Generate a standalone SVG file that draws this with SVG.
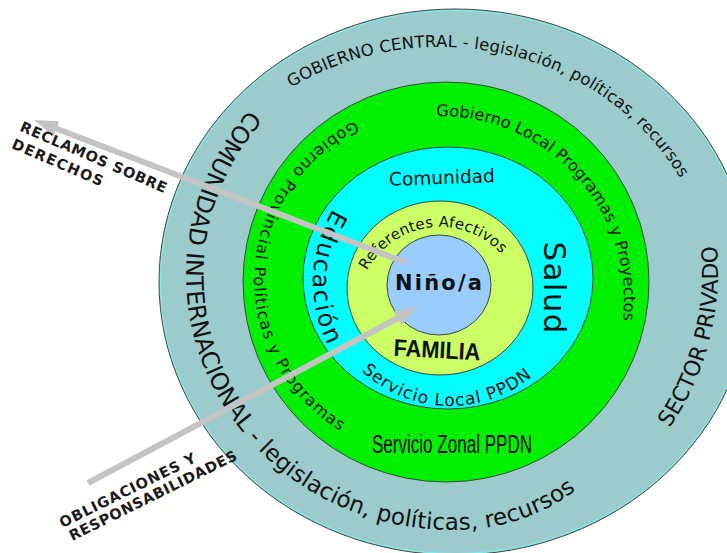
<svg xmlns="http://www.w3.org/2000/svg" width="727" height="553" viewBox="0 0 727 553">
<defs>
<style>
.ring{stroke:#3a4848;stroke-width:1}
.t{font-family:"DejaVu Sans",Verdana,sans-serif;fill:#111}
.n{font-family:"Liberation Sans",Arial,sans-serif;fill:#111}
.lbl{font-family:"DejaVu Sans",Verdana,sans-serif;font-weight:bold;font-size:14.5px;fill:#1a1a1a}
.arr{stroke:#c4c4c4;stroke-width:6;fill:none}
</style>
<marker id="ah" markerUnits="userSpaceOnUse" viewBox="0 0 24 16" markerWidth="24" markerHeight="16" refX="4" refY="8" orient="auto"><path d="M0,0 L24,8 L0,16 z" fill="#c4c4c4"/></marker>
<path id="p-top" d="M282.8,92.7 A274,253 0 0,1 688.3,193.1"/>
<path id="p-outer" d="M254.3,104.4 A266,255 0 0,0 452,530 A214.7,230 0 0,0 598,472"/>
<path id="p-sector" d="M665.5,433.6 A275,275 0 0,0 715.3,233.7"/>
<path id="p-glocal" d="M430.4,116.3 A184,184 0 0,1 621.2,332"/>
<path id="p-gprov" d="M361,117.8 A196,182 0 0,0 343.3,432.6"/>
<path id="p-slocal" d="M357.2,366.6 A129,129 0 0,0 539.6,369.8"/>
<path id="p-ref" d="M362,281.6 A83,83 0 0,1 511.9,268.5"/>
<path id="p-edu" d="M335.9,204.7 A142,142 0 0,0 335.9,359.3"/>
</defs>
<rect width="727" height="553" fill="#ffffff"/>

<g id="anillo-externo">
<ellipse class="ring" cx="455" cy="282" rx="296" ry="273" fill="#9ccbcb"/>
<ellipse cx="455" cy="282" rx="294.5" ry="271.5" fill="none" stroke="#7ff0f0" stroke-width="1"/>
<text class="t" font-size="16.5"><textPath href="#p-top" startOffset="10" textLength="442">GOBIERNO CENTRAL - legislación, políticas, recursos</textPath></text>
<text class="t" font-size="24"><textPath href="#p-outer" startOffset="7" textLength="352" lengthAdjust="spacingAndGlyphs">COMUNIDAD INTERNACIONAL</textPath></text>
<text class="t" font-size="23"><textPath href="#p-outer" startOffset="366" textLength="364">- legislación, políticas, recursos</textPath></text>
<text class="t" font-size="22"><textPath href="#p-sector" startOffset="7" textLength="192" lengthAdjust="spacingAndGlyphs">SECTOR PRIVADO</textPath></text>
</g>

<g id="anillo-gobierno">
<ellipse class="ring" cx="446" cy="282" rx="203" ry="200" fill="#00f000"/>
<text class="t" font-size="16"><textPath href="#p-glocal" startOffset="6" textLength="313">Gobierno Local Programas y Proyectos</textPath></text>
<text class="t" font-size="16"><textPath href="#p-gprov" startOffset="7" textLength="379">Gobierno Provincial Políticas y Programas</textPath></text>
<text class="n" font-size="26" x="372" y="453" textLength="160" lengthAdjust="spacingAndGlyphs">Servicio Zonal PPDN</text>
</g>

<g id="anillo-comunidad">
<ellipse class="ring" cx="448" cy="278" rx="145" ry="131" fill="#00ffff"/>
<text class="t" font-size="18.5" x="442" y="184" text-anchor="middle" transform="rotate(-2 442 180)">Comunidad</text>
<text class="t" font-size="24"><textPath href="#p-edu" startOffset="5" textLength="142">Educación</textPath></text>
<text class="t" font-size="31" text-anchor="middle" textLength="92" transform="translate(544 287.5) rotate(90)">Salud</text>
<text class="t" font-size="17"><textPath href="#p-slocal" startOffset="6" textLength="186">Servicio Local PPDN</textPath></text>
</g>

<g id="anillo-familia">
<ellipse class="ring" cx="440" cy="288" rx="93" ry="87" fill="#ccff66"/>
<text class="t" font-size="15"><textPath href="#p-ref" startOffset="12" textLength="158">Referentes Afectivos</textPath></text>
<text class="n" font-size="24" font-weight="bold" x="437" y="358" text-anchor="middle" textLength="87" lengthAdjust="spacingAndGlyphs" transform="rotate(3 437 350)">FAMILIA</text>
</g>

<g id="nino">
<ellipse class="ring" cx="439" cy="285" rx="52" ry="50" fill="#99ccff"/>
<text class="t" font-size="21" font-weight="bold" x="438.5" y="290" text-anchor="middle" textLength="87">Niño/a</text>
</g>

<g id="conectores">
<line class="arr" x1="407" y1="263" x2="52.7" y2="127.2" marker-end="url(#ah)"/>
<line class="arr" x1="88" y1="483" x2="400.9" y2="316.5" marker-end="url(#ah)"/>
</g>

<g id="etiqueta-reclamos" transform="translate(20 131) rotate(23.3)">
<text class="lbl" x="-1" y="0" textLength="158">RECLAMOS  SOBRE</text>
<text class="lbl" x="-2" y="19" textLength="98">DERECHOS</text>
</g>

<g id="etiqueta-obligaciones" transform="translate(62.5 528) rotate(-26.3)">
<text class="lbl" x="0" y="0" textLength="150">OBLIGACIONES Y</text>
<text class="lbl" x="3" y="16" textLength="185">RESPONSABILIDADES</text>
</g>
</svg>
